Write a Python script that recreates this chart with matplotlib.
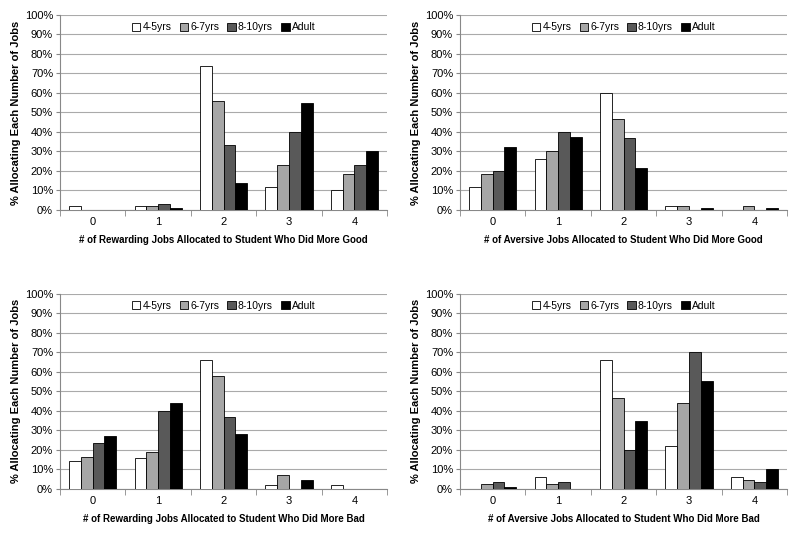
import matplotlib.pyplot as plt
import numpy as np

plt.rcParams['font.family'] = ['Liberation Sans', 'DejaVu Sans']

cats = ['0', '1', '2', '3', '4']
groups = ['4-5yrs', '6-7yrs', '8-10yrs', 'Adult']
colors = ['white', '#a6a6a6', '#595959', 'black']

# % allocating each number of jobs, one list per age group
reward_good = [
    [2, 2, 74, 12, 10],
    [0, 2.3, 56, 23.3, 18.6],
    [0, 3.3, 33.3, 40, 23.3],
    [0, 1, 14, 55, 30],
]
aversive_good = [
    [12, 26, 60, 2, 0],
    [18.6, 30.2, 46.5, 2.3, 2.3],
    [20, 40, 37, 0, 0],
    [32.5, 37.5, 21.5, 1, 1],
]
reward_bad = [
    [14, 16, 66, 2, 2],
    [16.3, 18.6, 58, 7, 0],
    [23.3, 40, 36.7, 0, 0],
    [27.3, 44, 28, 4.3, 0],
]
aversive_bad = [
    [0, 6, 66, 22, 6],
    [2.3, 2.3, 46.5, 44.2, 4.7],
    [3.3, 3.3, 20, 70, 3.3],
    [1, 0, 34.5, 55, 10],
]

xlabels = [
    '# of Rewarding Jobs Allocated to Student Who Did More Good',
    '# of Aversive Jobs Allocated to Student Who Did More Good',
    '# of Rewarding Jobs Allocated to Student Who Did More Bad',
    '# of Aversive Jobs Allocated to Student Who Did More Bad',
]
panels = [reward_good, aversive_good, reward_bad, aversive_bad]
boxes = [
    [0.075, 0.606, 0.409, 0.366],
    [0.575, 0.606, 0.409, 0.366],
    [0.075, 0.083, 0.409, 0.366],
    [0.575, 0.083, 0.409, 0.366],
]

fig = plt.figure(figsize=(8, 5.33), dpi=100)
x = np.arange(len(cats))
w = 0.18

for data, xl, box in zip(panels, xlabels, boxes):
    ax = fig.add_axes(box)
    for i, (vals, g, c) in enumerate(zip(data, groups, colors)):
        ax.bar(x + (i - 1.5) * w, vals, w, color=c, edgecolor='black',
               linewidth=0.6, label=g, zorder=3)
    ax.set_ylim(0, 100)
    ax.set_xlim(-0.5, 4.5)
    ax.set_yticks(range(0, 101, 10))
    ax.set_yticklabels([f'{v}%' for v in range(0, 101, 10)])
    ax.set_xticks(x)
    ax.set_xticklabels(cats)
    ax.set_xticks(np.arange(-0.5, 5, 1), minor=True)
    ax.tick_params(axis='x', which='major', length=0, labelsize=8, pad=5)
    ax.tick_params(axis='x', which='minor', length=4, color='#888888')
    ax.tick_params(axis='y', length=3, color='#888888', labelsize=8, pad=2)
    ax.grid(axis='y', color='#aaaaaa', linewidth=0.8, zorder=0)
    for s in ['top', 'right']:
        ax.spines[s].set_visible(False)
    for s in ['left', 'bottom']:
        ax.spines[s].set_color('#888888')
    ax.set_ylabel('% Allocating Each Number of Jobs', fontsize=8,
                  fontweight='bold', labelpad=3)
    ax.set_xlabel(xl, fontsize=7, fontweight='bold', labelpad=6)
    ax.legend(loc='upper center', bbox_to_anchor=(0.5, 1.0), ncol=4,
              frameon=False, fontsize=7.5, handlelength=0.8, handleheight=0.8,
              handletextpad=0.2, columnspacing=0.8, borderaxespad=0.3)

plt.savefig('out.png', dpi=100)
